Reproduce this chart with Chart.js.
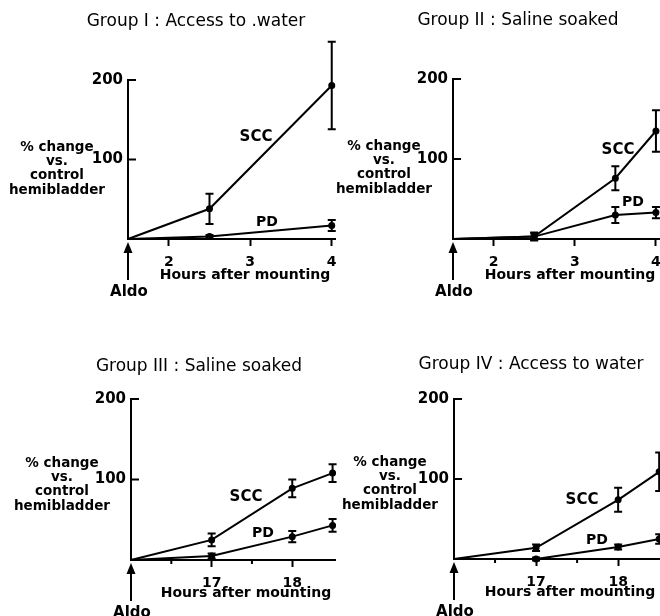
<!DOCTYPE html>
<html>
<head>
<meta charset="utf-8">
<title>Aldosterone response of toad hemibladders</title>
<script src="https://cdn.jsdelivr.net/npm/chart.js@4.4.1/dist/chart.umd.min.js"></script>
<style>
  html, body { margin: 0; padding: 0; background: #fff; }
  #wrap { position: relative; width: 660px; height: 616px; overflow: hidden; }
  #wrap canvas { position: absolute; left: 0; top: 0; }
</style>
</head>
<body>
<div id="wrap">
  <canvas id="g1" width="680" height="616"></canvas>
  <canvas id="g2" width="680" height="616"></canvas>
  <canvas id="g3" width="680" height="616"></canvas>
  <canvas id="g4" width="680" height="616"></canvas>
</div>
<script>
// % change vs. control hemibladder (mean and error bar half-length)
const g1Hours = [1.5, 2.5, 4];
const g1Scc = [0, 38, 193];
const g1SccErr = [0, 19, 55];
const g1Pd = [0, 3, 17];
const g1PdErr = [0, 2, 7];

const g2Hours = [1.5, 2.5, 3.5, 4];
const g2Scc = [0, 3, 76, 135];
const g2SccErr = [0, 5, 15, 26];
const g2Pd = [0, 3, 30, 33];
const g2PdErr = [0, 4, 10, 7];

const g3Hours = [16, 17, 18, 18.5];
const g3Scc = [0, 25, 89, 108];
const g3SccErr = [0, 8, 11, 11];
const g3Pd = [0, 5, 29, 43];
const g3PdErr = [0, 3, 7, 8];

const g4Hours = [16, 17, 18, 18.5];
const g4Scc = [0, 14, 74, 109];
const g4SccErr = [0, 4, 15, 24];
const g4Pd = [0, 0, 15, 25];
const g4PdErr = [0, 2, 3, 6];

const earlyTicks = [2, 3, 4];
const lateTicks = [17, 18];
const lateMinorTicks = [16.5, 17.5];
const yTicks = [100, 200];

const INK = '#000';
const CANVAS_W = 680;
const CANVAS_H = 616;
const font = s => 'bold ' + s + 'px "DejaVu Sans", sans-serif';

// where each panel sits on the page
const panels = [
  { id: 'g1', title: 'Group I : Access to .water',
    hours: g1Hours, scc: g1Scc, sccErr: g1SccErr, pd: g1Pd, pdErr: g1PdErr,
    xMin: 1.5, xMax: 4.04, ticks: earlyTicks, minor: [],
    area: { left: 128, top: 80, right: 335, bottom: 239 },
    titleAt: [196, 22], yLabelAt: [57, 147], xLabelAt: [245, 275],
    sccAt: [256, 137], pdAt: [267, 222] },
  { id: 'g2', title: 'Group II : Saline soaked',
    hours: g2Hours, scc: g2Scc, sccErr: g2SccErr, pd: g2Pd, pdErr: g2PdErr,
    xMin: 1.5, xMax: 4.05, ticks: earlyTicks, minor: [],
    area: { left: 453, top: 79, right: 660, bottom: 239 },
    titleAt: [518, 21], yLabelAt: [384, 146], xLabelAt: [570, 275],
    sccAt: [618, 150], pdAt: [633, 202] },
  { id: 'g3', title: 'Group III : Saline soaked',
    hours: g3Hours, scc: g3Scc, sccErr: g3SccErr, pd: g3Pd, pdErr: g3PdErr,
    xMin: 16, xMax: 18.53, ticks: lateTicks, minor: lateMinorTicks,
    area: { left: 131, top: 399, right: 335, bottom: 560 },
    titleAt: [199, 367], yLabelAt: [62, 463], xLabelAt: [246, 593],
    sccAt: [246, 497], pdAt: [263, 533] },
  { id: 'g4', title: 'Group IV : Access to water',
    hours: g4Hours, scc: g4Scc, sccErr: g4SccErr, pd: g4Pd, pdErr: g4PdErr,
    xMin: 16, xMax: 18.51, ticks: lateTicks, minor: lateMinorTicks,
    area: { left: 454, top: 399, right: 660, bottom: 559 },
    titleAt: [531, 365], yLabelAt: [390, 462], xLabelAt: [570, 592],
    sccAt: [582, 500], pdAt: [597, 540] }
];

const Y_AXIS_W = 40;
const X_AXIS_H = 30;

function series(label, hours, values, errors) {
  return {
    label: label,
    data: hours.map((h, i) => ({ x: h, y: values[i] })),
    errors: errors,
    borderColor: INK,
    backgroundColor: INK,
    borderWidth: 2,
    pointRadius: c => (c.dataIndex === 0 ? 0 : 2.5),
    pointHoverRadius: 0,
    tension: 0,
    fill: false,
    clip: false
  };
}

// error bars, inside y ticks, labels and the Aldo arrow
function makeOverlay(panel) {
  return {
    id: 'overlay',
    afterDatasetsDraw(chart) {
      const ctx = chart.ctx;
      const xs = chart.scales.x;
      const ys = chart.scales.y;
      const a = chart.chartArea;
      ctx.save();
      ctx.strokeStyle = INK;
      ctx.fillStyle = INK;
      ctx.lineWidth = 2;

      chart.data.datasets.forEach(ds => {
        ds.data.forEach((pt, j) => {
          const e = ds.errors[j];
          if (!e) return;
          const px = xs.getPixelForValue(pt.x);
          const hi = ys.getPixelForValue(pt.y + e);
          const lo = ys.getPixelForValue(pt.y - e);
          ctx.beginPath();
          ctx.moveTo(px, hi); ctx.lineTo(px, lo);
          ctx.moveTo(px - 4, hi); ctx.lineTo(px + 4, hi);
          ctx.moveTo(px - 4, lo); ctx.lineTo(px + 4, lo);
          ctx.stroke();
        });
      });

      yTicks.forEach(v => {
        const py = ys.getPixelForValue(v);
        ctx.beginPath();
        ctx.moveTo(a.left, py); ctx.lineTo(a.left + 8, py);
        ctx.stroke();
      });

      panel.minor.forEach(v => {
        const px = xs.getPixelForValue(v);
        ctx.beginPath();
        ctx.moveTo(px, a.bottom); ctx.lineTo(px, a.bottom + 4);
        ctx.stroke();
      });

      // Aldo arrow under the origin
      const ax = xs.getPixelForValue(panel.xMin);
      ctx.beginPath();
      ctx.moveTo(ax, a.bottom + 12); ctx.lineTo(ax, a.bottom + 41);
      ctx.stroke();
      ctx.beginPath();
      ctx.moveTo(ax, a.bottom + 3);
      ctx.lineTo(ax - 4.5, a.bottom + 14);
      ctx.lineTo(ax + 4.5, a.bottom + 14);
      ctx.closePath();
      ctx.fill();

      ctx.textAlign = 'center';
      ctx.textBaseline = 'middle';
      ctx.font = font(15);
      ctx.fillText('Aldo', ax + 1, a.bottom + 53);
      ctx.font = font(14);
      ctx.fillText('Hours after mounting', panel.xLabelAt[0], panel.xLabelAt[1]);

      ctx.font = font(15);
      ctx.fillText('SCC', panel.sccAt[0], panel.sccAt[1]);
      ctx.font = font(14);
      ctx.fillText('PD', panel.pdAt[0], panel.pdAt[1]);

      ctx.font = font(13.5);
      const [lx, ly] = panel.yLabelAt;
      ['% change', 'vs.', 'control', 'hemibladder'].forEach((t, k) => {
        ctx.fillText(t, lx, ly + [0, 14, 28, 43][k]);
      });

      ctx.font = '17px "DejaVu Sans", sans-serif';
      ctx.fillText(panel.title, panel.titleAt[0], panel.titleAt[1]);
      ctx.restore();
    }
  };
}

panels.forEach(panel => {
  const ctx = document.getElementById(panel.id).getContext('2d');
  new Chart(ctx, {
    type: 'line',
    data: {
      datasets: [
        series('SCC', panel.hours, panel.scc, panel.sccErr),
        series('PD', panel.hours, panel.pd, panel.pdErr)
      ]
    },
    options: {
      responsive: false,
      animation: false,
      devicePixelRatio: 1,
      events: [],
      layout: {
        padding: {
          left: panel.area.left - Y_AXIS_W,
          top: panel.area.top,
          right: CANVAS_W - panel.area.right,
          bottom: CANVAS_H - panel.area.bottom - X_AXIS_H
        }
      },
      plugins: {
        legend: { display: false },
        tooltip: { enabled: false }
      },
      scales: {
        x: {
          type: 'linear',
          min: panel.xMin,
          max: panel.xMax,
          afterBuildTicks: s => { s.ticks = panel.ticks.map(v => ({ value: v })); },
          afterFit: s => {
            s.height = X_AXIS_H;
            s.paddingLeft = 0;
            s.paddingRight = 0;
          },
          grid: { display: true, drawOnChartArea: false, drawTicks: true, tickLength: 7, tickWidth: 2, tickColor: INK },
          border: { display: true, color: INK, width: 2 },
          ticks: {
            color: INK,
            font: { family: 'DejaVu Sans', size: 14, weight: 'bold' },
            padding: 8,
            maxRotation: 0,
            autoSkip: false,
            callback: v => String(v)
          }
        },
        y: {
          type: 'linear',
          min: 0,
          max: 200,
          afterBuildTicks: s => { s.ticks = yTicks.map(v => ({ value: v })); },
          afterFit: s => {
            s.width = Y_AXIS_W;
            s.paddingTop = 0;
            s.paddingBottom = 0;
          },
          grid: { display: false, drawTicks: false },
          border: { display: true, color: INK, width: 2 },
          ticks: {
            color: INK,
            font: { family: 'DejaVu Sans', size: 15, weight: 'bold' },
            padding: 5,
            callback: v => String(v)
          }
        }
      }
    },
    plugins: [makeOverlay(panel)]
  });
});
</script>
</body>
</html>
